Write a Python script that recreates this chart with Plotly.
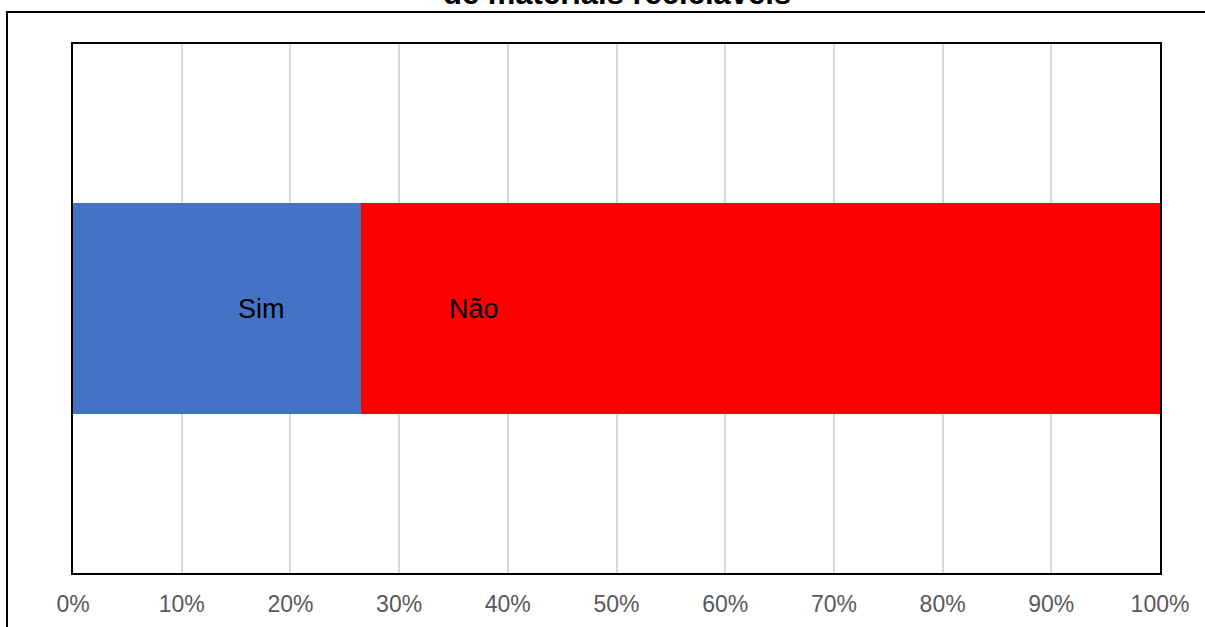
import plotly.graph_objects as go

# Share of answers (percent of respondents)
categories = [""]
sim_values = [26.5]
nao_values = [73.5]
series_names = ["Sim", "Não"]
tick_values = [0, 10, 20, 30, 40, 50, 60, 70, 80, 90, 100]
tick_labels = [f"{v}%" for v in tick_values]
title_text = "de materiais recicláveis"

# Positions of the series-name labels along the x axis
label_x = [17.3, 36.9]

W, H = 1205, 627
L, R, T, B = 73, 45, 44, 54
pw, ph = W - L - R, H - T - B

fig = go.Figure()
fig.add_trace(go.Bar(y=categories, x=sim_values, orientation="h", name=series_names[0],
                     marker=dict(color="#4472C4", line=dict(width=0))))
fig.add_trace(go.Bar(y=categories, x=nao_values, orientation="h", name=series_names[1],
                     marker=dict(color="#FF0000", line=dict(width=0))))

for name, xv in zip(series_names, label_x):
    fig.add_annotation(x=xv, y=0, xref="x", yref="y", text=name, showarrow=False,
                       font=dict(family="Liberation Sans, Arial", size=27, color="#000000"))

# Chart title (second line, top edge of the page)
fig.add_annotation(x=(617 - L) / pw, y=1 + (T - 13) / ph, xref="paper", yref="paper",
                   xanchor="center", yanchor="bottom", text=f"<b>{title_text}</b>",
                   showarrow=False,
                   font=dict(family="Liberation Sans, Arial", size=31, color="#000000"))

# Outer chart frame
fig.add_shape(type="rect", xref="paper", yref="paper",
              x0=(7 - L) / pw, x1=(W + 20 - L) / pw,
              y0=-(H + 20 - T - ph) / ph, y1=1 + (T - 12) / ph,
              line=dict(color="#000000", width=2), fillcolor="rgba(0,0,0,0)", layer="above")

fig.update_layout(
    width=W, height=H,
    margin=dict(l=L, r=R, t=T, b=B, pad=0, autoexpand=False),
    barmode="stack", bargap=0.6,
    showlegend=False,
    plot_bgcolor="#FFFFFF", paper_bgcolor="#FFFFFF",
    font=dict(family="Liberation Sans, Arial"),
)
fig.update_xaxes(range=[0, 100], tickvals=tick_values, ticktext=tick_labels,
                 showgrid=True, gridcolor="#D9D9D9", gridwidth=2,
                 showline=True, linecolor="#000000", linewidth=2, mirror=True,
                 ticks="outside", ticklen=9, tickcolor="rgba(0,0,0,0)",
                 tickfont=dict(size=23, color="#595959"), zeroline=False,
                 automargin=False)
fig.update_yaxes(showticklabels=False, showgrid=False, zeroline=False,
                 showline=True, linecolor="#000000", linewidth=2, mirror=True,
                 range=[-0.5, 0.5], automargin=False)

fig.write_html("out.html")
